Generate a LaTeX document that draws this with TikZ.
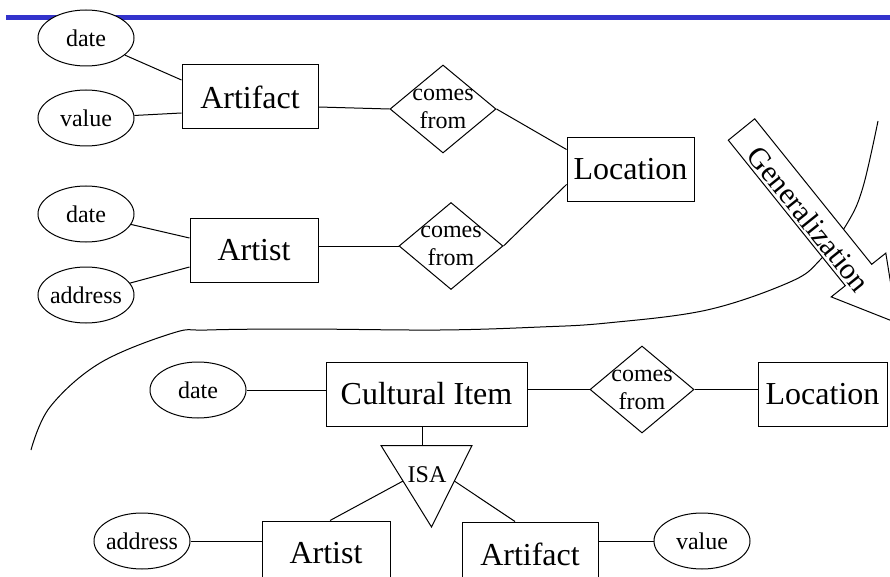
\documentclass[tikz,border=0pt]{standalone}
\usepackage{fontspec}
\setmainfont{Liberation Serif}
\usetikzlibrary{shapes.geometric,calc}
\definecolor{barblue}{RGB}{51,51,204}

\begin{document}
\begin{tikzpicture}[x=1pt,y=-1pt,
  line width=1pt,
  entity/.style={draw, fill=white, rectangle, minimum width=#1, minimum height=64,
    inner sep=0pt, font=\fontsize{32}{36}\selectfont},
  entity/.default=128,
  attr/.style={draw, fill=white, ellipse, minimum width=96, minimum height=56,
    inner sep=0pt, font=\fontsize{24}{28}\selectfont,
    execute at begin node={\hbox to 0pt\bgroup\hss},
    execute at end node={\hss\egroup}},
  rel/.style={draw, fill=white, diamond, minimum width=104, minimum height=88, inner sep=0pt},
  rellabel/.style={align=center, inner sep=0pt, font=\fontsize{24}{28}\selectfont},
  small/.style={inner sep=0pt, font=\fontsize{24}{28}\selectfont},
]
\useasboundingbox (0,0) rectangle (890,577);
\clip (0,0) rectangle (890,577);

% title rule
\fill[barblue] (6,15) rectangle (890,20);

% dividing curve between the two schemas
\draw plot[smooth, tension=0.6] coordinates {
  (31,450) (50,407) (100,363) (173,333) (207,330) (300,329) (440,330)
  (540,327) (607,323) (707,310) (790,282) (820,260) (848,222) (863,187) (878,121)};

% ---- upper schema ----
\node[attr] (d1) at (86,38) {date};
\node[attr] (v1) at (86,118) {value};
\node[entity=136] (art1) at (250,97) {Artifact};
\node[rel, minimum width=106, label={[rellabel]center:comes\\from}] (r1) at (443,109) {};
\node[entity=127] (loc1) at (630.5,169.5) {Location};

\node[attr] (d2) at (86,214) {date};
\node[attr] (ad1) at (86,295) {address};
\node[entity] (ar1) at (254,250) {Artist};
\node[rel, minimum height=87, label={[rellabel]center:comes\\from}] (r2) at (451,246) {};

\draw (d1) -- ($(art1.west)+(0,-17)$);
\draw (v1) -- ($(art1.west)+(0,16)$);
\draw ($(art1.east)+(0,10)$) -- (r1.west);
\draw (r1.east) -- ($(loc1.west)+(0,-20)$);
\draw (d2) -- ($(ar1.west)+(0,-12)$);
\draw (ad1) -- ($(ar1.west)+(0,17)$);
\draw ($(ar1.east)+(0,-4)$) -- (r2.west);
\draw (r2.east) -- ($(loc1.west)+(0,15)$);

% ---- generalized schema ----
\node[attr] (d3) at (198,390) {date};
\node[entity=201] (cult) at (426.5,394) {Cultural Item};
\node[rel, minimum height=87, label={[rellabel]center:comes\\from}] (r3) at (642,389.5) {};
\node[entity=129] (loc2) at (822.5,394) {Location};

\draw (d3) -- (d3 -| cult.west);
\draw (r3.west -| cult.east) -- (r3.west);
\draw (r3.east) -- (r3.east -| loc2.west);

% ISA triangle
\coordinate (isaL) at (381,445.5);
\coordinate (isaR) at (472,445.5);
\coordinate (isaB) at (431.5,527);
\draw[fill=white] (isaL) -- (isaR) -- (isaB) -- cycle;
\node[small] (isa) at (427,475) {ISA};
\coordinate (stem) at ($(cult.south)+(-4.5,0)$);
\draw (stem) -- (stem |- isaL);

\node[entity] (ar2) at (326,553) {Artist};
\node[entity=136] (art2) at (530,554) {Artifact};
\node[attr] (ad2) at (142,541) {address};
\node[attr] (v2) at (702,541) {value};

\draw ($(isaL)!0.436!(isaB)$) -- ($(ar2.north)+(4,0)$);
\draw ($(isaR)!0.436!(isaB)$) -- ($(art2.north)+(-15,0)$);
\draw (ad2) -- (ad2 -| ar2.west);
\draw (v2 -| art2.east) -- (v2);

% generalization block arrow
\draw[fill=white, line join=miter]
  (754.7,118.8) -- (871.7,264.3) -- (885.8,253.1) -- (897.0,322.9)
  -- (831.2,296.9) -- (845.3,285.7) -- (728.3,140.2) -- cycle;
\node[rotate=-51.2, inner sep=0pt, font=\fontsize{30}{32}\selectfont] (gen) at (809,219) {Generalization};
\end{tikzpicture}
\end{document}
